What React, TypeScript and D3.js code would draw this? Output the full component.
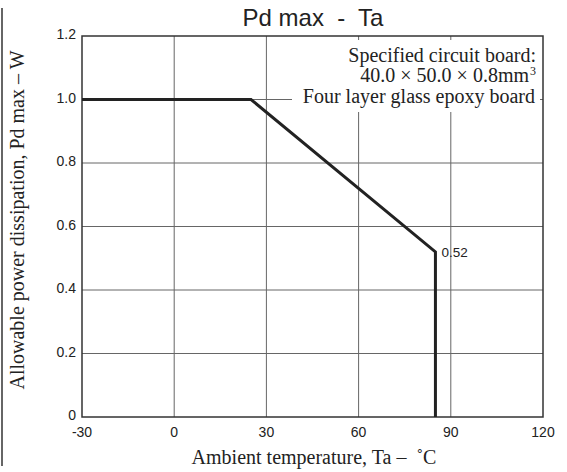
import React from "react";
import * as d3 from "d3";

const tempPoints = [-30, 25, 85, 85];
const powerPoints = [1.0, 1.0, 0.52, 0];
const xTicks = [-30, 0, 30, 60, 90, 120];
const yTicks = [0, 0.2, 0.4, 0.6, 0.8, 1.0, 1.2];
const yTickLabels = ["0", "0.2", "0.4", "0.6", "0.8", "1.0", "1.2"];
const noteLines = ["Specified circuit board:", "40.0 × 50.0 × 0.8mm", "Four layer glass epoxy board"];
const markerLabel = "0.52";

const W = 567;
const H = 472;
const L = 82, R = 543, T = 36, B = 417;

export default function App() {
  const x = d3.scaleLinear().domain([-30, 120]).range([L, R]);
  const y = d3.scaleLinear().domain([0, 1.2]).range([B, T]);
  const data = tempPoints.map((t, i) => [t, powerPoints[i]] as [number, number]);
  const line = d3.line<[number, number]>().x(d => x(d[0])).y(d => y(d[1]));
  const sans = "'Liberation Sans', Arial, sans-serif";
  const serif = "'Liberation Serif', 'Times New Roman', serif";
  return (
    <svg width={W} height={H} style={{ position: "absolute", left: 0, top: 0, background: "#fff" }}>
      <rect x={0} y={0} width={W} height={H} fill="#fff" />
      <line x1={2} x2={2} y1={8} y2={466} stroke="#333" strokeWidth={1.5} />
      {/* grid */}
      {xTicks.slice(1, -1).map(t => (
        <line key={"gx" + t} x1={x(t)} x2={x(t)} y1={T} y2={B} stroke="#666" strokeWidth={1} />
      ))}
      {yTicks.slice(1, -1).map(t => (
        <line key={"gy" + t} x1={L} x2={R} y1={y(t)} y2={y(t)} stroke="#666" strokeWidth={1} />
      ))}
      {/* note background */}
      <rect x={292} y={40} width={248} height={72} fill="#fff" />
      <g fontFamily={serif} fontSize={20} fill="#222" textAnchor="end">
        <text x={536} y={62}>{noteLines[0]}</text>
        <text x={536} y={82}>{noteLines[1]}<tspan fontSize={12} dx={1} dy={-7}>3</tspan></text>
        <text x={535} y={103}>{noteLines[2]}</text>
      </g>
      {/* frame */}
      <rect x={L} y={T} width={R - L} height={B - T} fill="none" stroke="#333" strokeWidth={1.5} />
      {/* data */}
      <path d={line(data) || ""} fill="none" stroke="#222" strokeWidth={3} />
      <text x={x(85) + 6} y={y(0.52) + 5} fontFamily={sans} fontSize={13.5} fill="#222">{markerLabel}</text>
      {/* tick labels */}
      <g fontFamily={sans} fontSize={14} fill="#222">
        {yTicks.map((t, i) => (
          <text key={"yl" + t} x={L - 6} y={y(t) + 3} textAnchor="end">{yTickLabels[i]}</text>
        ))}
        {xTicks.map(t => (
          <text key={"xl" + t} x={x(t)} y={B + 20} textAnchor="middle">{t}</text>
        ))}
      </g>
      {/* titles */}
      <text x={313} y={26} textAnchor="middle" fontFamily={sans} fontSize={24} fill="#222" style={{ whiteSpace: "pre" }}>Pd max  -  Ta</text>
      <text x={314} y={464} textAnchor="middle" fontFamily={serif} fontSize={20} fill="#222" style={{ whiteSpace: "pre" }}>Ambient temperature, Ta –  ˚C</text>
      <text transform={`translate(24,220) rotate(-90)`} textAnchor="middle" fontFamily={serif} fontSize={20} fill="#222">Allowable power dissipation, Pd max – W</text>
    </svg>
  );
}
